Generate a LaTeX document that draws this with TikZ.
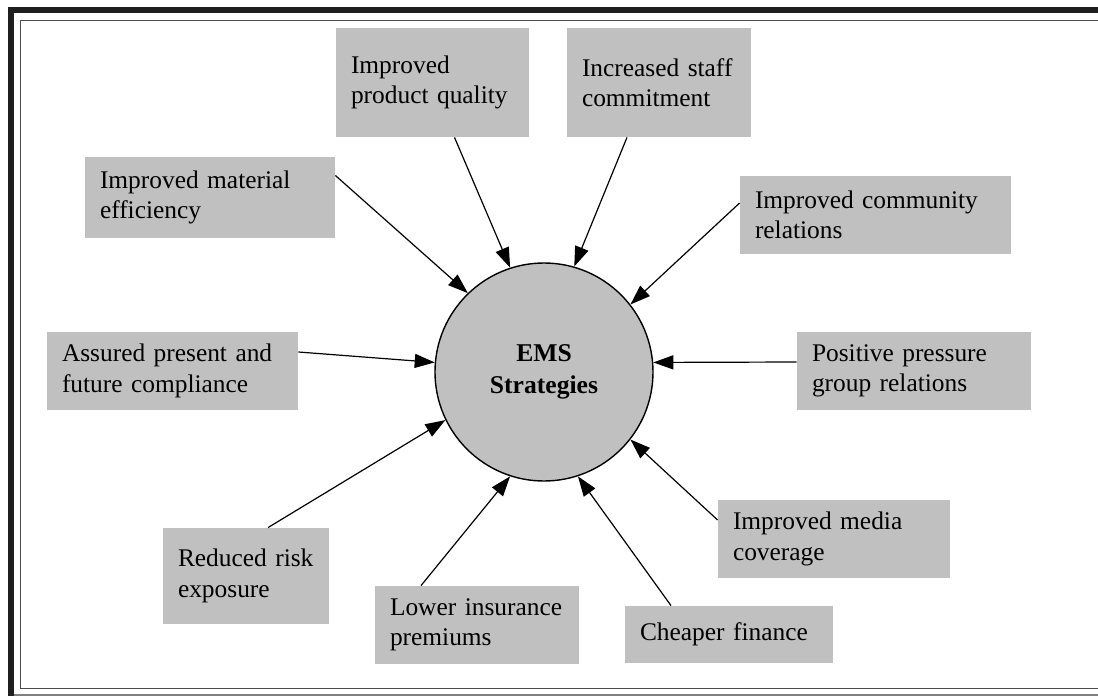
\documentclass[tikz,border=0pt]{standalone}
\usepackage{fontspec}
\setmainfont{Liberation Serif}
\usetikzlibrary{arrows.meta,calc}
\definecolor{boxgray}{HTML}{C0C0C0}

\tikzset{
    infobox/.style={fill=boxgray, align=left, inner xsep=7.5pt, inner ysep=0pt,
        font=\fontsize{12.7}{15.25}\selectfont},
    benefit/.style={-{Triangle[length=10pt,width=7pt]}, line width=0.6pt},
}

\begin{document}
\begin{tikzpicture}[x=0.5pt, y=-0.5pt]
    \useasboundingbox (0,0) rectangle (1098,696);
    \clip (0,0) rectangle (1098,696);
    % frame
    \fill [black!88] (8,7) rectangle (14,696);
    \fill [black!88] (8,7) rectangle (1098,13);
    \draw [gray, line width=0.75pt] (14,695) -- (1098,695);
    \draw [black!70, line width=0.9pt] (1100,20.5) -- (20.5,20.5) -- (20.5,688.5) -- (1100,688.5);

    % centre
    \node [circle, draw, fill=boxgray, line width=0.7pt, minimum size=109pt, inner sep=0pt,
        align=center, font=\bfseries\fontsize{12.8}{16}\selectfont] (ems) at (544,372) {EMS\\Strategies};

    % top row
    \node [infobox, text width=81.5pt, minimum height=54.5pt] (quality) at (432.5,82.5) {Improved\\product quality};
    \node [infobox, text width=77pt, minimum height=54.5pt] (staff) at (659,82.5) {Increased staff\\commitment};
    % left side
    \node [infobox, text width=110pt, minimum height=40.5pt] (material) at (210,197.5) {Improved material\\efficiency};
    \node [infobox, text width=110.5pt, minimum height=39pt] (compliance) at (172.5,371) {Assured present and\\future compliance};
    \node [infobox, text width=68pt, minimum height=48pt] (risk) at (246,576) {Reduced risk\\exposure};
    % right side
    \node [infobox, text width=120.5pt, minimum height=39pt] (community) at (875.5,215) {Improved community\\relations};
    \node [infobox, text width=102pt, minimum height=39pt] (pressure) at (914,371) {Positive pressure\\group relations};
    \node [infobox, text width=101pt, minimum height=39pt] (media) at (834,539) {Improved media\\coverage};
    % bottom row
    \node [infobox, text width=87pt, minimum height=39pt] (insurance) at (477,625) {Lower insurance\\premiums};
    \node [infobox, text width=89pt, minimum height=28.5pt] (finance) at (729,634.5) {Cheaper finance};

    % arrows into the centre
    \draw [benefit] ($(quality.south)+(22,0)$) -- (ems.108);
    \draw [benefit] ($(staff.south)+(-32,0)$) -- (ems.74);
    \draw [benefit] ($(material.east)+(0,-22)$) -- (ems.134);
    \draw [benefit] ($(community.west)+(0,-12)$) -- (ems.38);
    \draw [benefit] ($(compliance.east)+(0,-19)$) -- (ems.175);
    \draw [benefit] ($(pressure.west)+(0,-9)$) -- (ems.5);
    \draw [benefit] ($(risk.north)+(22,0)$) -- (ems.206);
    \draw [benefit] ($(insurance.north)+(-56,0)$) -- (ems.252);
    \draw [benefit] ($(finance.north)+(-58,0)$) -- (ems.288);
    \draw [benefit] ($(media.west)+(0,-19)$) -- (ems.322);
\end{tikzpicture}
\end{document}
